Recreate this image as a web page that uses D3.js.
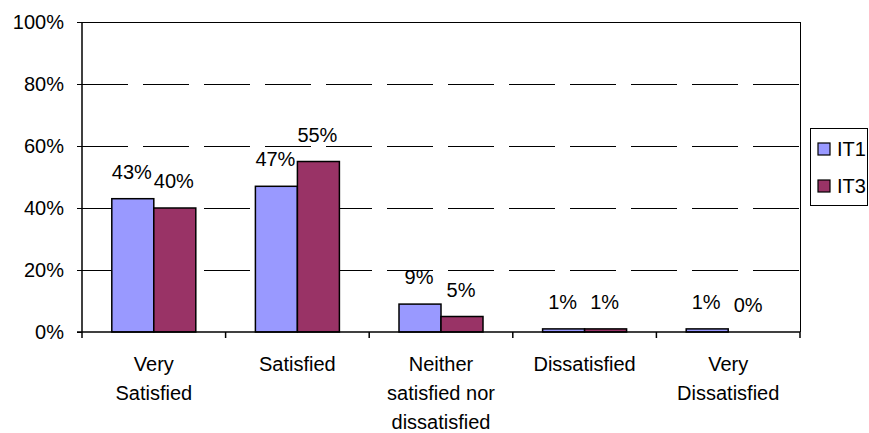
<!DOCTYPE html>
<html><head><meta charset="utf-8">
<script src="https://cdn.jsdelivr.net/npm/d3@7"></script>
<style>body{margin:0;background:#fff}svg{display:block;font-family:"Liberation Sans",Arial,sans-serif}</style>
</head><body>
<svg id="c" width="869" height="433"></svg>
<script>
const categories = [["Very","Satisfied"],["Satisfied"],["Neither","satisfied nor","dissatisfied"],["Dissatisfied"],["Very","Dissatisfied"]];
const seriesNames = ["IT1","IT3"];
const it1 = [43,47,9,1,1];
const it3 = [40,55,5,1,0];
const yTicks = [0,20,40,60,80,100];
const colors = ["#9999FF","#993366"];

const svg = d3.select("#c");
const L=82,R=800,T=22,B=332;
const FS=20;
const x = d3.scaleBand().domain(d3.range(categories.length)).range([L,R]).paddingInner(0).paddingOuter(0);
const y = d3.scaleLinear().domain([0,100]).range([B,T]);
const bw = 42;

// gridlines
svg.append("g").selectAll("line").data(yTicks.filter(d=>d>0&&d<100)).join("line")
  .attr("x1",L).attr("x2",R).attr("y1",d=>y(d)).attr("y2",d=>y(d))
  .attr("stroke","#000").attr("stroke-width",1).attr("stroke-dasharray","46,15").attr("shape-rendering","crispEdges");
// top & right border
svg.append("line").attr("x1",L).attr("x2",R).attr("y1",T).attr("y2",T).attr("stroke","#000").attr("shape-rendering","crispEdges");
svg.append("line").attr("x1",R).attr("x2",R).attr("y1",T).attr("y2",B).attr("stroke","#000").attr("shape-rendering","crispEdges");

// bars
const data = [it1,it3];
data.forEach((vals,si)=>{
  const g = svg.append("g");
  g.selectAll("rect").data(vals).join("rect")
    .attr("x",(d,i)=>x(i)+x.bandwidth()/2-bw+si*bw)
    .attr("y",d=>y(d)).attr("width",bw).attr("height",d=>B-y(d))
    .attr("fill",colors[si]).attr("stroke","#000").attr("stroke-width",1.5)
    .style("display",d=>d===0?"none":null);
  g.selectAll("text").data(vals).join("text")
    .attr("x",(d,i)=>x(i)+x.bandwidth()/2-bw/2+si*bw-1)
    .attr("y",d=>y(d)-20).attr("text-anchor","middle")
    .attr("font-size",FS).text(d=>d+"%");
});

// y axis
const ya = svg.append("g").attr("transform",`translate(${L},0)`).call(d3.axisLeft(y).tickValues(yTicks).tickFormat(d=>d+"%").tickSize(5).tickPadding(13));
ya.select(".domain").attr("stroke-width",1.5).attr("d",`M0,${T}V${B}`);
ya.selectAll("text").attr("font-size",FS).attr("fill","#000").attr("font-family","Liberation Sans, Arial, sans-serif");

// x axis
const xa = svg.append("g").attr("transform",`translate(0,${B})`);
xa.append("line").attr("x1",L-5).attr("x2",R).attr("y1",0).attr("y2",0).attr("stroke","#000").attr("stroke-width",1.5);
xa.selectAll("line.t").data(d3.range(categories.length+1)).join("line").attr("class","t")
  .attr("x1",i=>L+i*x.bandwidth()).attr("x2",i=>L+i*x.bandwidth()).attr("y1",0).attr("y2",6).attr("stroke","#000").attr("stroke-width",1.5);
categories.forEach((lines,i)=>{
  const t = xa.append("text").attr("text-anchor","middle").attr("font-size",FS);
  lines.forEach((ln,j)=>t.append("tspan").attr("x",x(i)+x.bandwidth()/2).attr("y",39+j*29).text(ln));
});

// legend
const lg = svg.append("g");
lg.append("rect").attr("x",810.5).attr("y",128.5).attr("width",57).attr("height",77).attr("fill","#fff").attr("stroke","#000");
seriesNames.forEach((n,i)=>{
  lg.append("rect").attr("x",818).attr("y",143+i*37).attr("width",12).attr("height",12).attr("fill",colors[i]).attr("stroke","#000").attr("stroke-width",1.2);
  lg.append("text").attr("x",837).attr("y",156+i*37).attr("font-size",FS).text(n);
});
</script>
</body></html>
